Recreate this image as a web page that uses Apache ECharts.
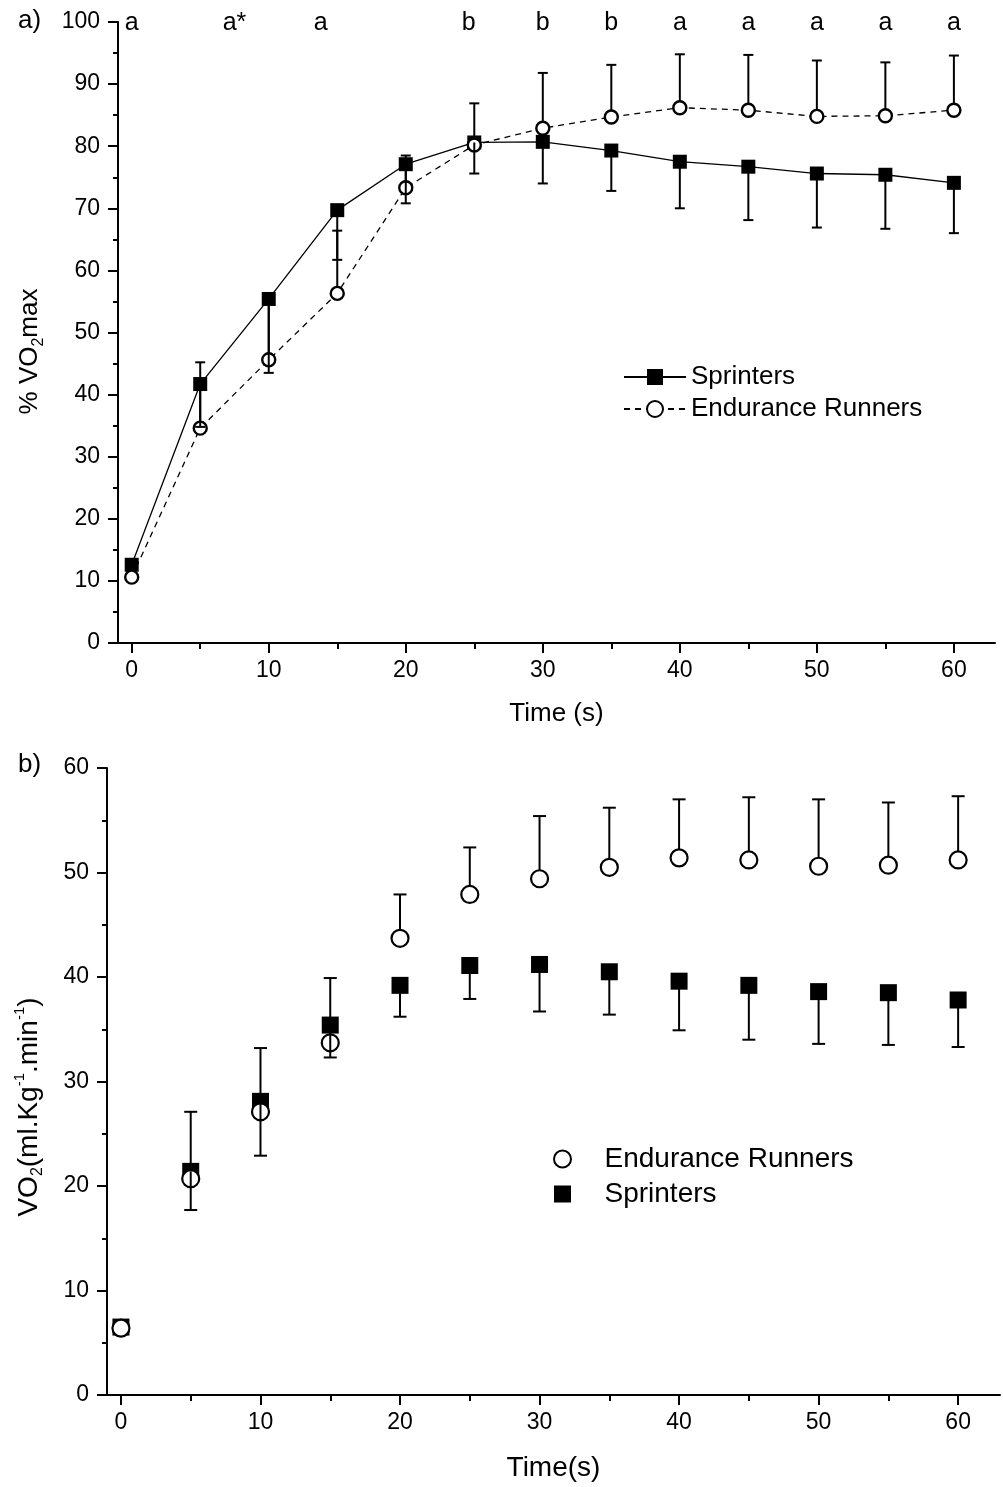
<!DOCTYPE html>
<html>
<head>
<meta charset="utf-8">
<script src="https://cdn.jsdelivr.net/npm/echarts@6/dist/echarts.min.js"></script>
<style>
html,body{margin:0;padding:0;background:#fff;}
#main{width:1003px;height:1487px;}
</style>
</head>
<body>
<div id="main"></div>
<script>
// ---------- data ----------
const times = [0, 5, 10, 15, 20, 25, 30, 35, 40, 45, 50, 55, 60];

// panel a) % VO2max
const pctSprinters = [12.6, 41.7, 55.4, 69.7, 77.1, 80.6, 80.7, 79.3, 77.5, 76.7, 75.6, 75.4, 74.1];
const pctEndurance = [10.6, 34.6, 45.6, 56.3, 73.3, 80.2, 82.9, 84.7, 86.2, 85.8, 84.8, 84.9, 85.8];
// error bar ends (sprinters drawn downward, endurance upward)
const pctSprintersErrEnd = [null, 34.8, 43.5, 61.7, 70.8, 75.6, 74.0, 72.8, 70.0, 68.1, 66.9, 66.7, 66.0];
const pctEnduranceErrEnd = [null, 45.2, 55.0, 66.4, 78.5, 86.9, 91.8, 93.1, 94.8, 94.7, 93.8, 93.5, 94.6];

// significance letters above panel a)
const sigX = [0, 7.5, 13.8, 24.6, 30, 35, 40, 45, 50, 55, 60];
const sigText = ['a', 'a*', 'a', 'b', 'b', 'b', 'a', 'a', 'a', 'a', 'a'];

// panel b) VO2 (ml.kg-1.min-1)
const vo2Endurance = [6.4, 20.7, 27.1, 33.7, 43.7, 47.9, 49.4, 50.5, 51.4, 51.2, 50.6, 50.7, 51.2];
const vo2Sprinters = [6.5, 21.4, 28.1, 35.4, 39.2, 41.1, 41.2, 40.5, 39.6, 39.2, 38.6, 38.5, 37.8];
const vo2EnduranceErrEnd = [7.0, 27.1, 33.2, 39.9, 47.9, 52.4, 55.4, 56.2, 57.0, 57.2, 57.0, 56.7, 57.3];
const vo2SprintersErrEnd = [null, 17.7, 22.9, 32.3, 36.2, 37.9, 36.7, 36.4, 34.9, 34.0, 33.6, 33.5, 33.3];

// tick values
const xMajorTicks = [0, 10, 20, 30, 40, 50, 60];
const xMinorTicks = [5, 15, 25, 35, 45, 55];

// ---------- chart ----------
const FONT = 'Liberation Sans, Arial, Helvetica, sans-serif';
const SQUARE = 'path://M0 0H10V10H0Z';
const chart = echarts.init(document.getElementById('main'), null, {renderer: 'canvas'});

function pairs(xs, ys) { return xs.map((x, i) => [x, ys[i]]); }

function errSeries(name, xs, means, ends, xi, yi, capW, z) {
  const data = [];
  xs.forEach((x, i) => { if (ends[i] != null) data.push([x, means[i], ends[i]]); });
  return {
    name: name, type: 'custom', xAxisIndex: xi, yAxisIndex: yi, z: z, silent: true,
    data: data, clip: false,
    encode: {x: 0, y: [1, 2]},
    renderItem: function (params, api) {
      const p0 = api.coord([api.value(0), api.value(1)]);
      const p1 = api.coord([api.value(0), api.value(2)]);
      return {
        type: 'group',
        children: [
          {type: 'line', shape: {x1: p0[0], y1: p0[1], x2: p1[0], y2: p1[1]}, style: {stroke: '#000', lineWidth: 2}},
          {type: 'line', shape: {x1: p1[0] - capW / 2, y1: p1[1], x2: p1[0] + capW / 2, y2: p1[1]}, style: {stroke: '#000', lineWidth: 2}}
        ]
      };
    }
  };
}

function mainX(grid, name, nameGap, nameSize) {
  return {
    gridIndex: grid, type: 'value', min: -1, max: 63,
    name: name, nameLocation: 'middle', nameGap: nameGap,
    nameTextStyle: {fontFamily: FONT, fontSize: nameSize, color: '#000'},
    axisLine: {show: true, onZero: false, lineStyle: {color: '#000', width: 2}},
    axisTick: {show: true, customValues: xMajorTicks, length: 10, lineStyle: {color: '#000', width: 2}},
    axisLabel: {show: true, customValues: xMajorTicks, margin: 16, fontFamily: FONT, fontSize: 23, color: '#000'},
    splitLine: {show: false}
  };
}
function minorX(grid) {
  return {
    gridIndex: grid, type: 'value', min: -1, max: 63, position: 'bottom',
    axisLine: {show: false, onZero: false},
    axisTick: {show: true, customValues: xMinorTicks, length: 6, lineStyle: {color: '#000', width: 2}},
    axisLabel: {show: false},
    splitLine: {show: false}
  };
}
function mainY(grid, max, name, nameGap, nameSize, pad) {
  return {
    gridIndex: grid, type: 'value', min: 0, max: max, interval: 10,
    name: name, nameLocation: 'middle', nameGap: nameGap, nameRotate: 90,
    nameTextStyle: {
      fontFamily: FONT, fontSize: nameSize, color: '#000', lineHeight: 34, padding: pad,
      rich: {
        sub: {fontFamily: FONT, fontSize: 16, lineHeight: 16, verticalAlign: 'bottom', color: '#000'},
        sup: {fontFamily: FONT, fontSize: 15, lineHeight: 15, verticalAlign: 'top', color: '#000'}
      }
    },
    axisLine: {show: true, onZero: false, lineStyle: {color: '#000', width: 2}},
    axisTick: {show: true, length: 10, lineStyle: {color: '#000', width: 2}},
    minorTick: {show: true, splitNumber: 2, length: 5, lineStyle: {color: '#000', width: 2}},
    axisLabel: {margin: 18, fontFamily: FONT, fontSize: 23, color: '#000'},
    splitLine: {show: false},
    minorSplitLine: {show: false}
  };
}

const option = {
  animation: false,
  backgroundColor: '#fff',
  textStyle: {fontFamily: FONT},
  grid: [
    {left: 118, right: 8, top: 22, bottom: 844, containLabel: false},
    {left: 107, right: 3, top: 768, bottom: 92, containLabel: false}
  ],
  xAxis: [mainX(0, 'Time (s)', 58, 26), minorX(0), mainX(1, 'Time(s)', 59, 28), minorX(1)],
  yAxis: [
    mainY(0, 100, '% VO{sub|2}max', 71, 26, [0, 38, 0, 0]),
    mainY(1, 60, 'VO{sub|2}(ml.Kg{sup|-1}.min{sup|-1})', 61, 28, [0, 51, 0, 0])
  ],
  legend: [
    {
      data: ['Sprinters', 'Endurance Runners'],
      orient: 'vertical', left: 618, top: 359,
      itemWidth: 62, itemHeight: 20, itemGap: 6,
      selectedMode: false,
      textStyle: {fontFamily: FONT, fontSize: 26, color: '#000'}
    },
    {
      data: ['b:Endurance Runners', {name: 'b:Sprinters', icon: SQUARE}],
      orient: 'vertical', left: 548, top: 1140,
      itemWidth: 74, itemHeight: 17, itemGap: 7,
      selectedMode: false,
      formatter: function (n) { return n.replace('b:', ''); },
      textStyle: {fontFamily: FONT, fontSize: 28, color: '#000'}
    }
  ],
  series: [
    // panel a
    errSeries('errEndA', times, pctEndurance, pctEnduranceErrEnd, 0, 0, 10, 1),
    {
      name: 'Sprinters', type: 'line', xAxisIndex: 0, yAxisIndex: 0, z: 2,
      data: pairs(times, pctSprinters),
      symbol: 'rect', symbolSize: 14, showAllSymbol: true,
      itemStyle: {color: '#000'},
      lineStyle: {color: '#000', width: 1.3, type: 'solid'}
    },
    {
      name: 'Endurance Runners', type: 'line', xAxisIndex: 0, yAxisIndex: 0, z: 3,
      data: pairs(times, pctEndurance),
      symbol: 'circle', symbolSize: 13, showAllSymbol: true,
      itemStyle: {color: '#fff', borderColor: '#000', borderWidth: 2.4},
      lineStyle: {color: '#000', width: 1.3, type: [6, 5]}
    },
    errSeries('errSprA', times, pctSprinters, pctSprintersErrEnd, 0, 0, 10, 4),
    {
      name: 'sig', type: 'custom', xAxisIndex: 0, yAxisIndex: 0, z: 5, silent: true, clip: false,
      data: sigX.map((x, i) => [x, 100, sigText[i]]),
      encode: {x: 0, y: 1},
      renderItem: function (params, api) {
        const p = api.coord([api.value(0), api.value(1)]);
        return {
          type: 'text', x: p[0], y: p[1] + 1,
          style: {text: sigText[params.dataIndex], fill: '#000', fontFamily: FONT, fontSize: 25,
            align: 'center', verticalAlign: 'middle'}
        };
      }
    },
    // panel b
    errSeries('errEndB', times, vo2Endurance, vo2EnduranceErrEnd, 2, 1, 13, 1),
    {
      name: 'b:Sprinters', type: 'scatter', xAxisIndex: 2, yAxisIndex: 1, z: 2,
      data: pairs(times, vo2Sprinters),
      symbol: 'rect', symbolSize: 17,
      itemStyle: {color: '#000', opacity: 1}
    },
    {
      name: 'b:Endurance Runners', type: 'scatter', xAxisIndex: 2, yAxisIndex: 1, z: 3,
      data: pairs(times, vo2Endurance),
      symbol: 'circle', symbolSize: 17,
      itemStyle: {color: '#fff', borderColor: '#000', borderWidth: 2.2, opacity: 1}
    },
    errSeries('errSprB', times, vo2Sprinters, vo2SprintersErrEnd, 2, 1, 13, 4)
  ],
  graphic: [
    {type: 'text', left: 18, top: 8, style: {text: 'a)', fontFamily: FONT, fontSize: 26, fill: '#000'}},
    {type: 'text', left: 18, top: 752, style: {text: 'b)', fontFamily: FONT, fontSize: 26, fill: '#000'}}
  ]
};
chart.setOption(option);
</script>
</body>
</html>
